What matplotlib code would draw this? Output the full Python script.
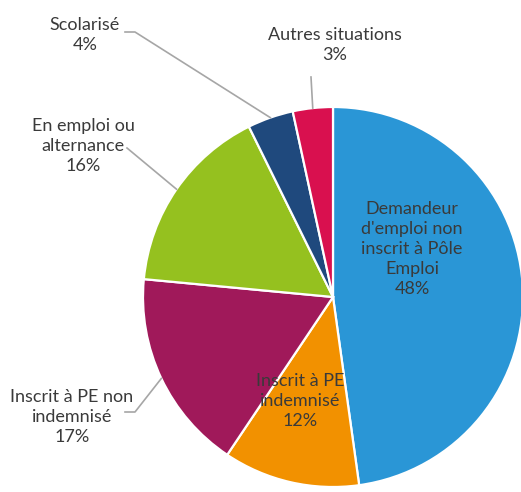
import numpy as np
import matplotlib
matplotlib.use("Agg")
import matplotlib.pyplot as plt

categories = ["Demandeur\nd'emploi non\ninscrit à Pôle\nEmploi", "Inscrit à PE\nindemnisé",
              "Inscrit à PE non\nindemnisé", "En emploi ou\nalternance", "Scolarisé", "Autres situations"]
values = [47.8, 11.6, 17.1, 16.2, 3.9, 3.4]
colors = ["#2A96D6", "#F29100", "#A0195A", "#95C11F", "#1F497D", "#D9104F"]

W, H = 521, 492
fig = plt.figure(figsize=(W / 100, H / 100), dpi=100)
ax = fig.add_axes([0, 0, 1, 1])

cx, cy, R = 333, H - 297, 190
wedges, _ = ax.pie(values, colors=colors, startangle=90, counterclock=False,
                   center=(cx, cy), radius=R, frame=True,
                   wedgeprops=dict(edgecolor="white", linewidth=1.6))
ax.set_xlim(0, W)
ax.set_ylim(0, H)
ax.set_aspect("equal")
ax.axis("off")

font = dict(family=["Lato", "DejaVu Sans"], fontsize=13, color="#3A3A3A",
            ha="center", va="center", linespacing=1.3)

def lab(i):
    return f"{categories[i]}\n{round(values[i]):.0f}%"

# inside labels
ax.text(412, H - 249, lab(0), **font)
ax.text(300, H - 401, lab(1), **font)
# outside labels
ax.text(72, H - 417, lab(2), **font)
ax.text(83, H - 146, lab(3), **font)
ax.text(85, H - 35, lab(4), **font)
ax.text(335, H - 45, lab(5), **font)

# leader lines to wedge mid-angle on arc
def arc_pt(i):
    w = wedges[i]
    a = np.deg2rad((w.theta1 + w.theta2) / 2)
    return cx + R * np.cos(a), cy + R * np.sin(a)

lc = dict(color="#A6A6A6", linewidth=1.2)
x, y = arc_pt(2)
ax.plot([125, 135, x], [H - 412, H - 412, y], **lc)
x, y = arc_pt(3)
ax.plot([127, x], [H - 148, y], **lc)
x, y = arc_pt(4)
ax.plot([125, 135, x], [H - 32, H - 32, y], **lc)
x, y = arc_pt(5)
ax.plot([311, x], [H - 77, y], **lc)

fig.savefig("out.png", dpi=100, facecolor="white")
